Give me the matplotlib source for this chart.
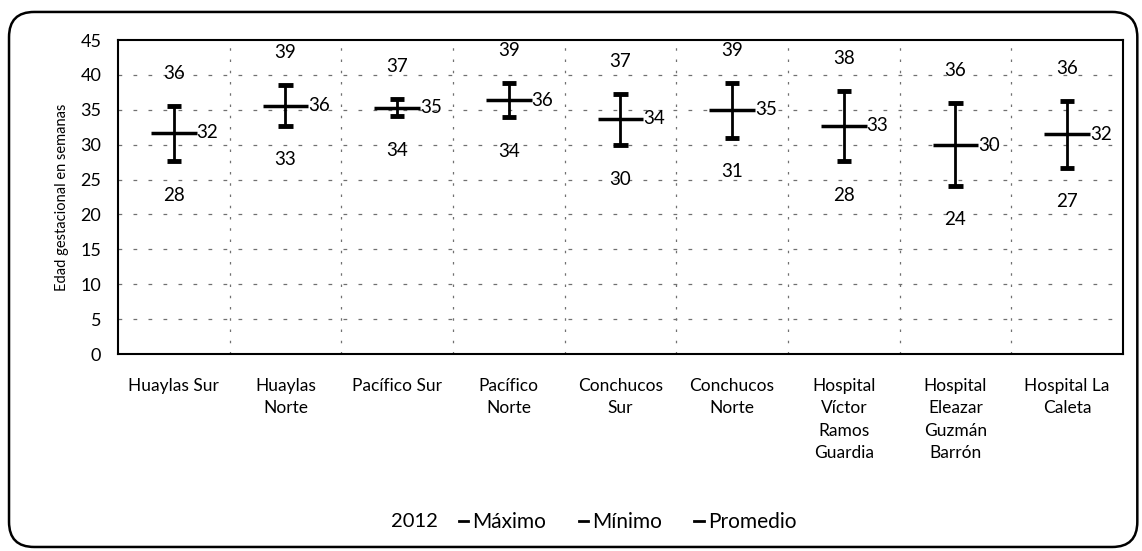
import matplotlib
matplotlib.use("Agg")
import matplotlib.pyplot as plt
from matplotlib.patches import FancyBboxPatch
from matplotlib.lines import Line2D

plt.rcParams['font.family'] = ['Lato', 'DejaVu Sans']

categories = ["Huaylas Sur", "Huaylas\nNorte", "Pacífico Sur", "Pacífico\nNorte",
              "Conchucos\nSur", "Conchucos\nNorte", "Hospital\nVíctor\nRamos\nGuardia",
              "Hospital\nEleazar\nGuzmán\nBarrón", "Hospital La\nCaleta"]
maximo = [35.6, 38.6, 36.6, 38.9, 37.3, 38.9, 37.7, 36.0, 36.3]
minimo = [27.6, 32.7, 34.1, 33.9, 29.9, 31.0, 27.6, 24.1, 26.7]
promedio = [31.7, 35.6, 35.3, 36.4, 33.7, 35.0, 32.7, 29.9, 31.5]
year_label = "2012"
series_names = ["Máximo", "Mínimo", "Promedio"]
y_ticks = [0, 5, 10, 15, 20, 25, 30, 35, 40, 45]

fig = plt.figure(figsize=(11.42, 5.51), dpi=100)
ax = fig.add_axes([0.1033, 0.3575, 0.880, 0.5699])

x = list(range(len(categories)))
ink = "black"

# grid: dotted horizontals and category separators
for y in y_ticks[1:-1]:
    ax.axhline(y, color="#707070", lw=0.9, ls=(0, (3, 9)), zorder=1)
for i in range(1, len(categories)):
    ax.axvline(i - 0.5, color="#707070", lw=0.9, ls=(0, (2, 7)), zorder=1)

# high-low lines with caps and the average tick
ax.vlines(x, minimo, maximo, color=ink, lw=2, zorder=3)
ax.hlines(maximo, [i - 0.065 for i in x], [i + 0.065 for i in x], color=ink, lw=3.5, zorder=3)
ax.hlines(minimo, [i - 0.065 for i in x], [i + 0.065 for i in x], color=ink, lw=3.5, zorder=3)
ax.hlines(promedio, [i - 0.205 for i in x], [i + 0.205 for i in x], color=ink, lw=2.5, zorder=4)

fs = 13.5
for i in x:
    ax.annotate(f"{maximo[i]:.0f}", (i, maximo[i]), xytext=(0, 23), textcoords="offset points",
                ha="center", va="center", fontsize=fs)
    ax.annotate(f"{minimo[i]:.0f}", (i, minimo[i]), xytext=(0, -24.5), textcoords="offset points",
                ha="center", va="center", fontsize=fs)
    ax.annotate(f"{promedio[i]:.0f}", (i + 0.205, promedio[i]), xytext=(0, 0), textcoords="offset points",
                ha="left", va="center", fontsize=fs)

ax.set_xlim(-0.5, len(categories) - 0.5)
ax.set_ylim(0, 45)
ax.set_yticks(y_ticks)
ax.set_xticks(x)
ax.set_xticklabels(categories, fontsize=12.5, linespacing=1.5, va="top")
ax.tick_params(axis="y", labelsize=13, length=0, pad=12)
ax.tick_params(axis="x", length=0, pad=17)
for s in ax.spines.values():
    s.set_linewidth(1.5)
    s.set_color(ink)

fig.text(0.054, 0.6425, "Edad gestacional en semanas", rotation=90, ha="center", va="center", fontsize=10.5)

# legend
fig.text(0.363, 0.053, year_label, ha="center", va="center", fontsize=14.5)
handles = [Line2D([], [], color=ink, lw=2) for _ in series_names]
fig.legend(handles, series_names, loc="center", bbox_to_anchor=(0.5495, 0.053),
           ncol=3, frameon=False, fontsize=15, handlelength=0.45, handletextpad=0.2,
           columnspacing=1.55)

# rounded outer frame
frame = FancyBboxPatch((0.0079, 0.0073), 0.988, 0.971, boxstyle="round,pad=0,rounding_size=0.022",
                       transform=fig.transFigure, fill=False, edgecolor=ink, lw=1.8,
                       mutation_aspect=1142 / 551)
fig.patches.append(frame)

fig.savefig("out.png", dpi=100)
